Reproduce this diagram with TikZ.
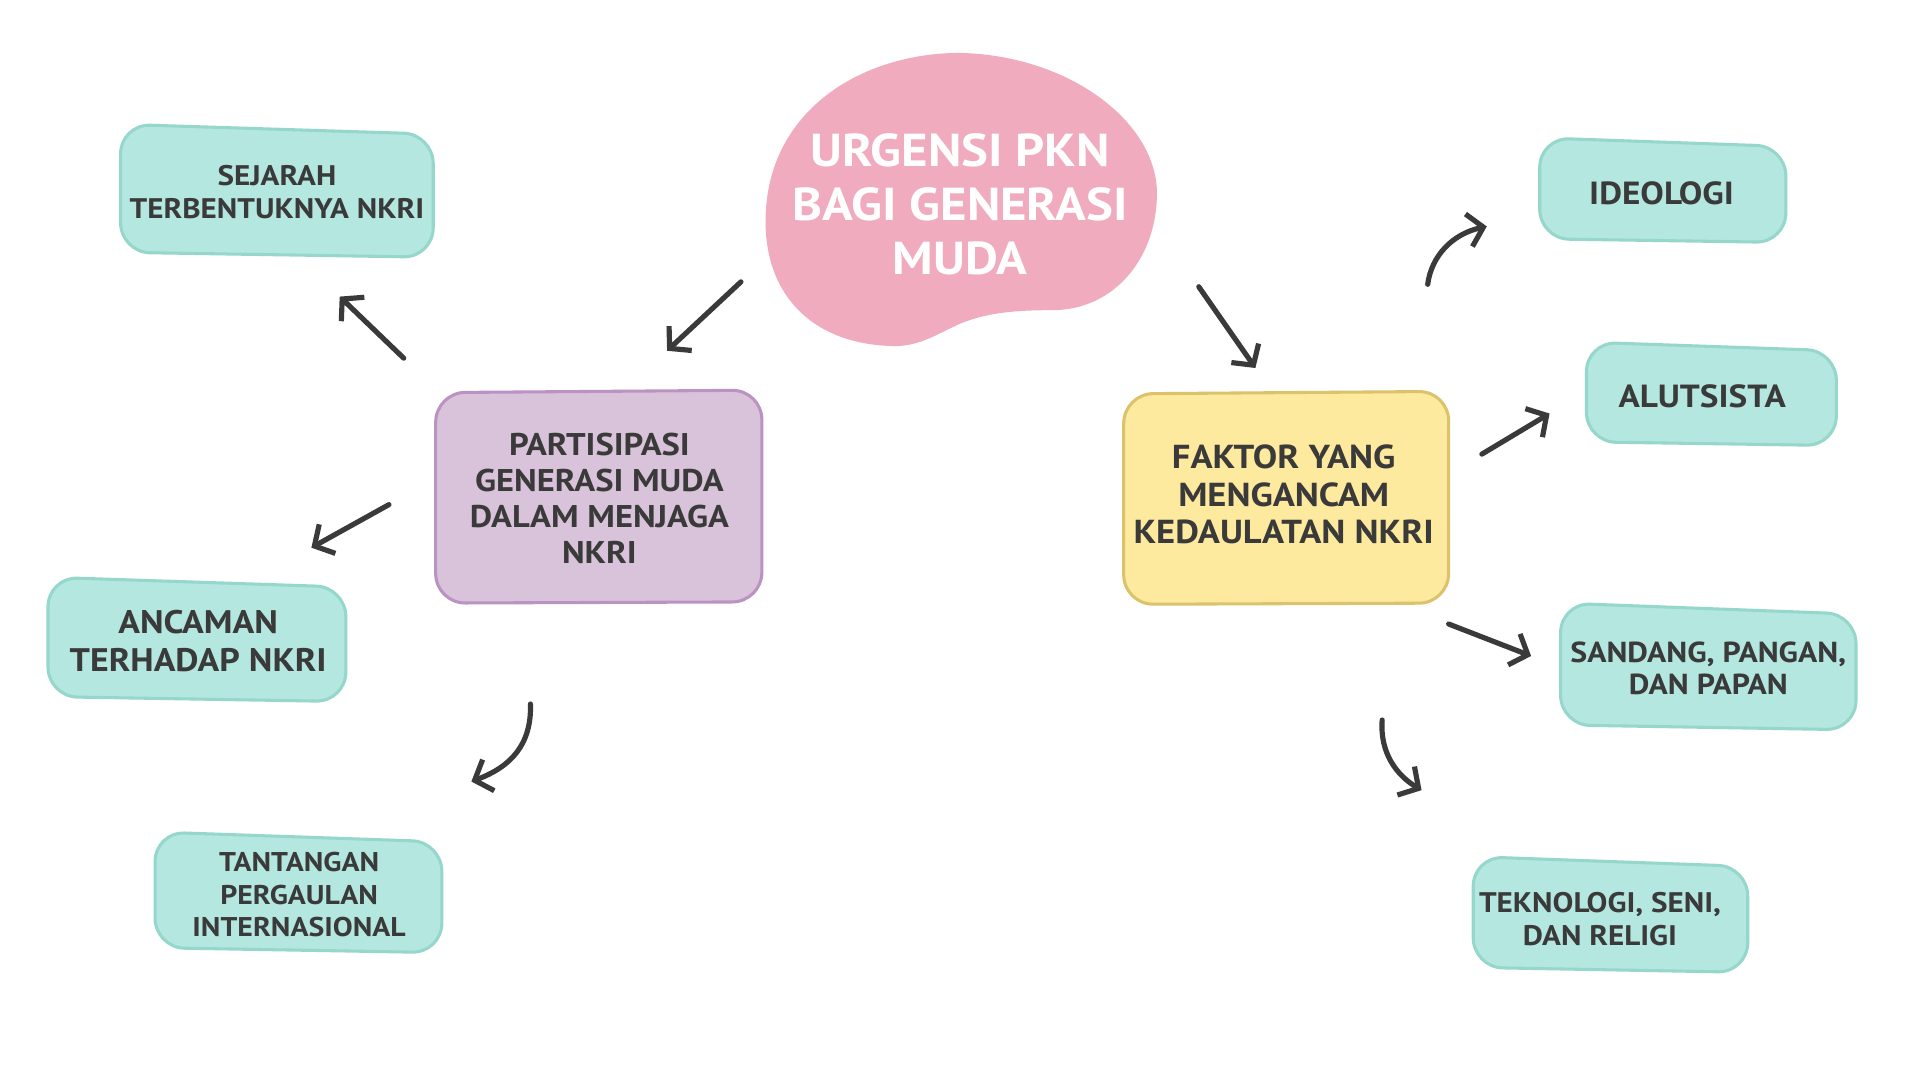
\documentclass[tikz,border=0pt]{standalone}
\usepackage{fontspec}
\setmainfont{PT Sans}[FakeStretch=1.1]
\usetikzlibrary{arrows.meta}
\definecolor{tealfill}{HTML}{B4E7DF}
\definecolor{tealline}{HTML}{96D7CB}
\definecolor{purfill}{HTML}{D9C3DB}
\definecolor{purline}{HTML}{BB93C2}
\definecolor{yelfill}{HTML}{FEEA9E}
\definecolor{yelline}{HTML}{DCC36B}
\definecolor{pinkfill}{HTML}{F0ABBE}
\definecolor{ink}{HTML}{3A3A3A}
\newcommand{\sketchbox}[7]{\path[#1] (#2,#3) -- (#4,#3+#6) -- (#4,#5) -- (#2,#5-#7) -- cycle;}
\tikzset{
  boxbase/.style={line width=2.5pt, rounded corners=24pt},
  tealbox/.style={boxbase, fill=tealfill, draw=tealline},
  purbox/.style={boxbase, fill=purfill, draw=purline},
  yelbox/.style={boxbase, fill=yelfill, draw=yelline},
  txt/.style={text=ink, align=center, inner sep=0pt, font=\bfseries\fontsize{23}{27}\selectfont},
  blobtxt/.style={align=center, inner sep=0pt, text=white, font=\bfseries\fontsize{37.5}{43.5}\selectfont},
  arr/.style={draw=ink, line width=4.2pt, line cap=round, -{Straight Barb[length=12pt,width=27pt,line width=4.2pt]}}
}
\begin{document}
\begin{tikzpicture}[x=1pt,y=-1pt]
\useasboundingbox (0,0) rectangle (1560,877.5);
\fill[white] (0,0) rectangle (1560,877.5);

% central blob
\fill[pinkfill] (780,43) .. controls (870,45) and (940,100) .. (940,157)
  .. controls (940,210) and (905,252) .. (855,252)
  .. controls (820,252) and (800,255) .. (780,263)
  .. controls (760,272) and (745,283) .. (721,281)
  .. controls (660,278) and (622,240) .. (622,180)
  .. controls (622,90) and (700,43) .. (780,43) -- cycle;
\node[blobtxt] (root) at (780,166) {URGENSI PKN\\BAGI GENERASI\\MUDA};

% boxes
\sketchbox{tealbox}{98}{101}{352}{209}{8}{4}
\node[txt] (sej) at (225,156) {SEJARAH\\TERBENTUKNYA NKRI};

\sketchbox{purbox}{354}{319}{619}{489}{-2}{-1}
\node[txt, font=\bfseries\fontsize{25.5}{29.3}\selectfont] (part) at (487,405) {PARTISIPASI\\GENERASI MUDA\\DALAM MENJAGA\\NKRI};

\sketchbox{tealbox}{39}{469}{281}{570}{8}{4}
\node[txt, font=\bfseries\fontsize{26.5}{31}\selectfont] (anc) at (161,521) {ANCAMAN\\TERHADAP NKRI};

\sketchbox{tealbox}{126}{676}{359}{774}{8}{4}
\node[txt, font=\bfseries\fontsize{22}{26.5}\selectfont] (tan) at (243,727) {TANTANGAN\\PERGAULAN\\INTERNASIONAL};

\sketchbox{yelbox}{913}{320}{1177}{490}{-2}{-1}
\node[txt, font=\bfseries\fontsize{27}{30.5}\selectfont] (fak) at (1043,402) {FAKTOR YANG\\MENGANCAM\\KEDAULATAN NKRI};

\sketchbox{tealbox}{1251}{112}{1451}{197}{7}{3}
\node[txt, font=\bfseries\fontsize{26}{28}\selectfont] (ide) at (1350,157) {IDEOLOGI};

\sketchbox{tealbox}{1289}{278}{1492}{362}{7}{3}
\node[txt, font=\bfseries\fontsize{26}{28}\selectfont] (alu) at (1383,322) {ALUTSISTA};

\sketchbox{tealbox}{1268}{490}{1508}{593}{9}{4}
\node[txt, font=\bfseries\fontsize{23.5}{26.5}\selectfont] (san) at (1388,543) {SANDANG, PANGAN,\\DAN PAPAN};

\sketchbox{tealbox}{1197}{696}{1420}{790}{8}{4}
\node[txt, font=\bfseries\fontsize{23}{27}\selectfont] (tek) at (1300,747) {TEKNOLOGI, SENI,\\DAN RELIGI};

% connector end points
\coordinate (a1s) at (602,229);  \coordinate (a1e) at (542,285);
\coordinate (a2s) at (328,291);  \coordinate (a2e) at (276,241);
\coordinate (a3s) at (316,410);  \coordinate (a3e) at (253,445);
\coordinate (a4s) at (431,572);  \coordinate (a4e) at (383,635);
\coordinate (a5s) at (974,233);  \coordinate (a5e) at (1020,299);
\coordinate (a6s) at (1160,231); \coordinate (a6e) at (1208,184);
\coordinate (a7s) at (1204,369); \coordinate (a7e) at (1259,336);
\coordinate (a8s) at (1177,507); \coordinate (a8e) at (1244,533);
\coordinate (a9s) at (1123,585); \coordinate (a9e) at (1155,642);

% connectors
\draw[arr] (a1s) -- (a1e);
\draw[arr] (a2s) -- (a2e);
\draw[arr] (a3s) -- (a3e);
\draw[arr] (a4s) .. controls (432,605) and (415,623) .. (a4e);
\draw[arr] (a5s) -- (a5e);
\draw[arr] (a6s) .. controls (1163,208) and (1180,190) .. (a6e);
\draw[arr] (a7s) -- (a7e);
\draw[arr] (a8s) -- (a8e);
\draw[arr] (a9s) .. controls (1121,612) and (1135,630) .. (a9e);
\end{tikzpicture}
\end{document}
